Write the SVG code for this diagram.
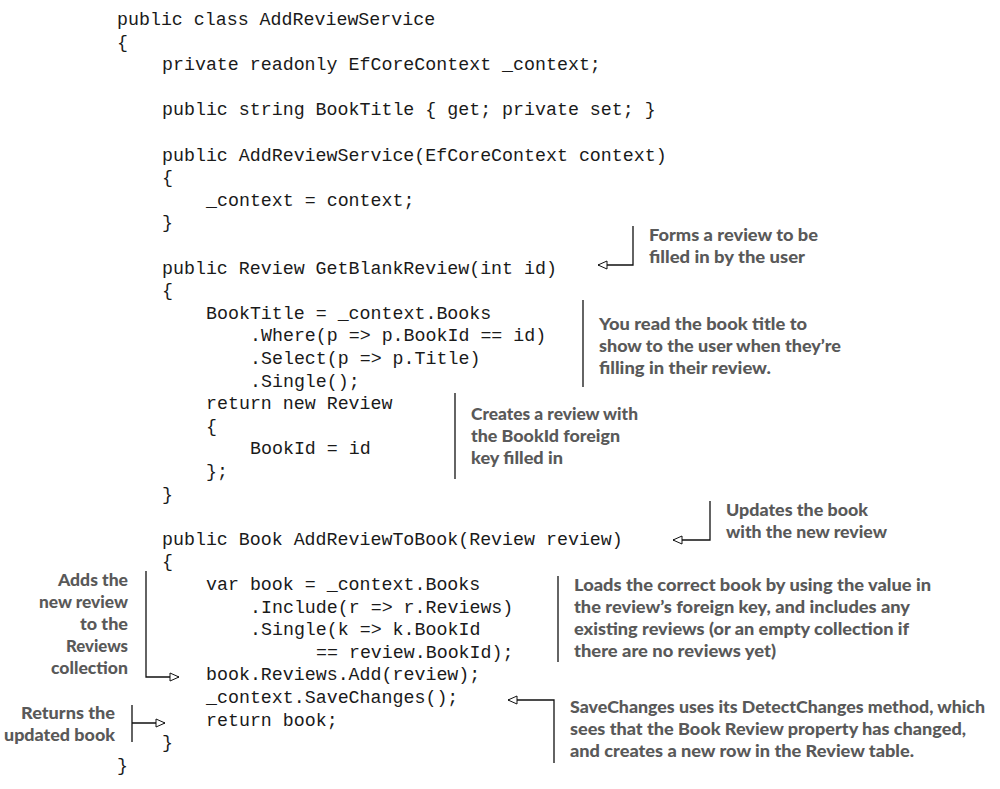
<svg xmlns="http://www.w3.org/2000/svg" width="1000" height="789" viewBox="0 0 1000 789">
<style>
.code{font-family:"Liberation Mono","Courier New",monospace;font-size:18.3px;fill:#1a1a1a;white-space:pre}
.note{font-family:Lato,"Open Sans","Liberation Sans",sans-serif;font-size:17px;font-weight:900;fill:#595959}
.r{text-anchor:end}
.ln{stroke:#111;stroke-width:1.3;fill:none}
</style>
<defs>
<marker id="ah" markerWidth="12" markerHeight="10" refX="10" refY="5" orient="auto" markerUnits="userSpaceOnUse">
<path d="M1,1 L10,5 L1,9 Z" fill="#fff" stroke="#111" stroke-width="1"/>
</marker>
</defs>
<rect width="1000" height="789" fill="#fff"/>
<g id="code" transform="translate(0,1)">
<text class="code" x="117" y="24">public class AddReviewService</text>
<text class="code" x="117" y="46.6">{</text>
<text class="code" x="162" y="69.2">private readonly EfCoreContext _context;</text>
<text class="code" x="162" y="114.4">public string BookTitle { get; private set; }</text>
<text class="code" x="162" y="159.6">public AddReviewService(EfCoreContext context)</text>
<text class="code" x="162" y="182.2">{</text>
<text class="code" x="206" y="204.8">_context = context;</text>
<text class="code" x="162" y="227.4">}</text>
<text class="code" x="162" y="272.6">public Review GetBlankReview(int id)</text>
<text class="code" x="162" y="295.2">{</text>
<text class="code" x="206" y="317.8">BookTitle = _context.Books</text>
<text class="code" x="250" y="340.4">.Where(p =&gt; p.BookId == id)</text>
<text class="code" x="250" y="363">.Select(p =&gt; p.Title)</text>
<text class="code" x="250" y="385.6">.Single();</text>
<text class="code" x="206" y="408.2">return new Review</text>
<text class="code" x="206" y="430.8">{</text>
<text class="code" x="250" y="453.4">BookId = id</text>
<text class="code" x="206" y="476">};</text>
<text class="code" x="162" y="498.6">}</text>
<text class="code" x="162" y="543.8">public Book AddReviewToBook(Review review)</text>
<text class="code" x="162" y="566.4">{</text>
<text class="code" x="206" y="589">var book = _context.Books</text>
<text class="code" x="250" y="611.6">.Include(r =&gt; r.Reviews)</text>
<text class="code" x="250" y="634.2">.Single(k =&gt; k.BookId</text>
<text class="code" x="316" y="656.8">== review.BookId);</text>
<text class="code" x="206" y="679.4">book.Reviews.Add(review);</text>
<text class="code" x="206" y="702">_context.SaveChanges();</text>
<text class="code" x="206" y="724.6">return book;</text>
<text class="code" x="162" y="747.2">}</text>
<text class="code" x="117" y="769.8">}</text>
</g>
<g id="connectors">
<path class="ln" d="M633,226 V265 H598" marker-end="url(#ah)"/>
<path class="ln" d="M583,300 V387"/>
<path class="ln" d="M455,393 V479"/>
<path class="ln" d="M710,501 V540 H673" marker-end="url(#ah)"/>
<path class="ln" d="M558,576 V662"/>
<path class="ln" d="M554,763 V700 H508" marker-end="url(#ah)"/>
<path class="ln" d="M146,571 V677 H179" marker-end="url(#ah)"/>
<path class="ln" d="M132,705 V742 M132,723 H165" marker-end="url(#ah)"/>
</g>
<g id="note-forms">
<text class="note" x="649" y="241" textLength="169" lengthAdjust="spacingAndGlyphs">Forms a review to be</text>
<text class="note" x="649" y="263" textLength="156" lengthAdjust="spacingAndGlyphs">filled in by the user</text>
</g>
<g id="note-read">
<text class="note" x="599" y="330" textLength="208" lengthAdjust="spacingAndGlyphs">You read the book title to</text>
<text class="note" x="599" y="352" textLength="242" lengthAdjust="spacingAndGlyphs">show to the user when they’re</text>
<text class="note" x="599" y="374" textLength="172" lengthAdjust="spacingAndGlyphs">filling in their review.</text>
</g>
<g id="note-creates">
<text class="note" x="471" y="420" textLength="167" lengthAdjust="spacingAndGlyphs">Creates a review with</text>
<text class="note" x="471" y="442" textLength="149" lengthAdjust="spacingAndGlyphs">the BookId foreign</text>
<text class="note" x="471" y="464" textLength="92" lengthAdjust="spacingAndGlyphs">key filled in</text>
</g>
<g id="note-updates">
<text class="note" x="726" y="516" textLength="142" lengthAdjust="spacingAndGlyphs">Updates the book</text>
<text class="note" x="726" y="538" textLength="161" lengthAdjust="spacingAndGlyphs">with the new review</text>
</g>
<g id="note-loads">
<text class="note" x="574" y="591" textLength="357" lengthAdjust="spacingAndGlyphs">Loads the correct book by using the value in</text>
<text class="note" x="574" y="613" textLength="336" lengthAdjust="spacingAndGlyphs">the review’s foreign key, and includes any</text>
<text class="note" x="574" y="635" textLength="335" lengthAdjust="spacingAndGlyphs">existing reviews (or an empty collection if</text>
<text class="note" x="574" y="657" textLength="202" lengthAdjust="spacingAndGlyphs">there are no reviews yet)</text>
</g>
<g id="note-save">
<text class="note" x="570" y="713" textLength="415" lengthAdjust="spacingAndGlyphs">SaveChanges uses its DetectChanges method, which</text>
<text class="note" x="570" y="735" textLength="396" lengthAdjust="spacingAndGlyphs">sees that the Book Review property has changed,</text>
<text class="note" x="570" y="757" textLength="344" lengthAdjust="spacingAndGlyphs">and creates a new row in the Review table.</text>
</g>
<g id="note-adds">
<text class="note" x="58" y="586" textLength="70" lengthAdjust="spacingAndGlyphs">Adds the</text>
<text class="note" x="39" y="608" textLength="89" lengthAdjust="spacingAndGlyphs">new review</text>
<text class="note" x="80" y="630" textLength="48" lengthAdjust="spacingAndGlyphs">to the</text>
<text class="note" x="66" y="652" textLength="62" lengthAdjust="spacingAndGlyphs">Reviews</text>
<text class="note" x="51" y="674" textLength="77" lengthAdjust="spacingAndGlyphs">collection</text>
</g>
<g id="note-returns">
<text class="note" x="21" y="719" textLength="94" lengthAdjust="spacingAndGlyphs">Returns the</text>
<text class="note" x="4" y="741" textLength="111" lengthAdjust="spacingAndGlyphs">updated book</text>
</g>
</svg>
